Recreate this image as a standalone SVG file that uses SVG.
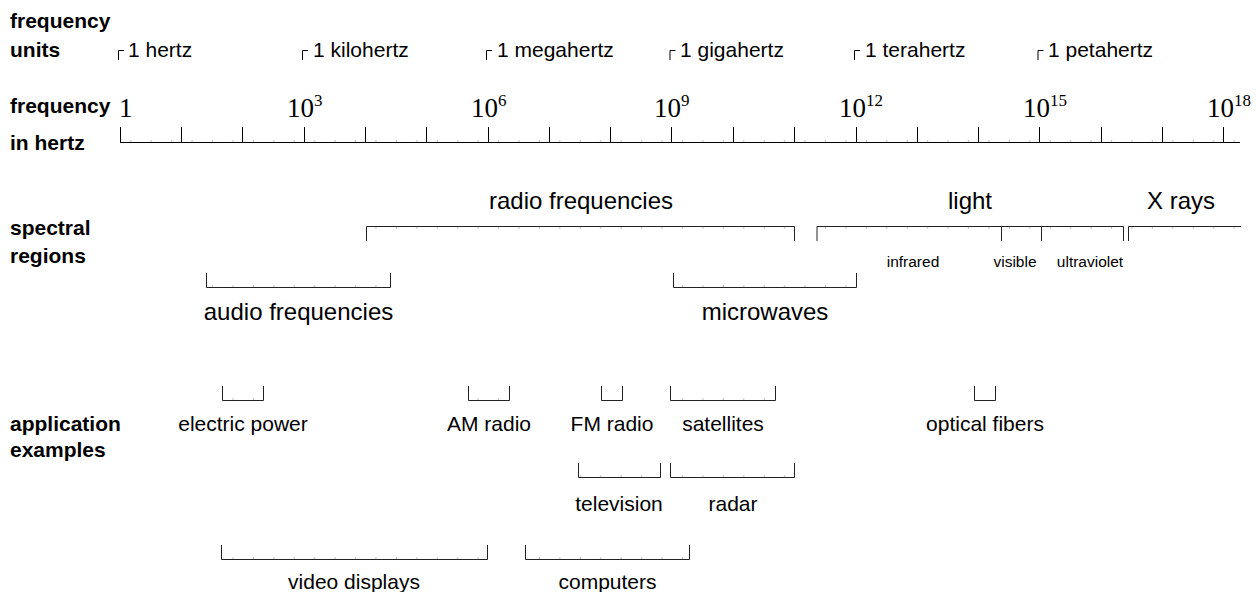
<svg xmlns="http://www.w3.org/2000/svg" width="1256" height="592" viewBox="0 0 1256 592">
<style>
text{font-family:"Liberation Sans",Arial,Helvetica,sans-serif;fill:#000}
.b{font-weight:bold;font-size:21px}
.u{font-size:21px}
.s{font-size:24px;text-anchor:middle}
.a{font-size:21px;text-anchor:middle}
.t{font-size:15.5px;text-anchor:middle}
.n{font-family:"Liberation Serif","Times New Roman",serif;font-size:27px}
.sup{font-size:17px}
.ln{fill:none;stroke:#000;stroke-width:1}
.br{fill:none;stroke:#222;stroke-width:1}
.mt{fill:url(#minor)}
</style>
<defs>
<pattern id="minor" patternUnits="userSpaceOnUse" x="0" y="0" width="20.433" height="2">
<rect x="7.6" y="0" width="1" height="2" fill="#bbb"/>
</pattern>
</defs>
<rect width="1256" height="592" fill="#fff"/>
<g id="row-labels">
<text class="b" x="10" y="28">frequency</text>
<text class="b" x="10" y="57">units</text>
<text class="b" x="10" y="113">frequency</text>
<text class="b" x="10" y="150">in hertz</text>
<text class="b" x="10" y="235">spectral</text>
<text class="b" x="10" y="263">regions</text>
<text class="b" x="10" y="431">application</text>
<text class="b" x="10" y="457">examples</text>
</g>
<g id="units">
<path class="ln" d="M118.5 60V50.5H124M302.5 60V50.5H308M486.5 60V50.5H492M670 60V50.5H675.5M854.5 60V50.5H860M1038 60V50.5H1043.5"/>
<text class="u" x="128" y="57">1 hertz</text>
<text class="u" x="313" y="57">1 kilohertz</text>
<text class="u" x="497" y="57">1 megahertz</text>
<text class="u" x="680" y="57">1 gigahertz</text>
<text class="u" x="865" y="57">1 terahertz</text>
<text class="u" x="1048" y="57">1 petahertz</text>
</g>
<g id="axis">
<rect class="mt" x="121" y="140" width="1119" height="2"/>
<path class="ln" d="M120 142.5H1240"/>
<path class="ln" d="M120.5 127V142M181.5 127V142M242.5 127V142M304.5 127V142M365.5 127V142M426.5 127V142M488.5 127V142M549.5 127V142M610.5 127V142M671.5 127V142M733.5 127V142M794.5 127V142M856.5 127V142M917.5 127V142M978.5 127V142M1039.5 127V142M1101.5 127V142M1162.5 127V142M1223.5 127V142"/>
<text class="n" x="119" y="117">1</text>
<text class="n" x="287" y="117">10<tspan class="sup" dy="-11">3</tspan></text>
<text class="n" x="471" y="117">10<tspan class="sup" dy="-11">6</tspan></text>
<text class="n" x="654" y="117">10<tspan class="sup" dy="-11">9</tspan></text>
<text class="n" x="839" y="117">10<tspan class="sup" dy="-11">12</tspan></text>
<text class="n" x="1023" y="117">10<tspan class="sup" dy="-11">15</tspan></text>
<text class="n" x="1207" y="117">10<tspan class="sup" dy="-11">18</tspan></text>
</g>
<g id="spectral-regions">
<g id="radio-frequencies">
<rect class="mt" x="368" y="227" width="425" height="2"/>
<path class="br" d="M366.5 241V226.5H794.5V241"/>
<text class="s" x="581" y="209">radio frequencies</text>
</g>
<g id="light">
<rect class="mt" x="818" y="227" width="304" height="2"/>
<path class="br" d="M817 241V226.5H1123.5V241M1001.5 226.5V241M1041.5 226.5V241"/>
<text class="s" x="970" y="209">light</text>
<text class="t" x="913" y="267">infrared</text>
<text class="t" x="1015" y="267">visible</text>
<text class="t" x="1090" y="267">ultraviolet</text>
</g>
<g id="x-rays">
<rect class="mt" x="1130" y="227" width="110" height="2"/>
<path class="br" d="M1128.5 241V226.5H1241"/>
<text class="s" x="1181" y="209">X rays</text>
</g>
<g id="audio-frequencies">
<rect class="mt" x="208" y="285" width="181" height="2"/>
<path class="br" d="M206.5 273V287.5H390.5V273"/>
<text class="s" x="298.5" y="320">audio frequencies</text>
</g>
<g id="microwaves">
<rect class="mt" x="675" y="285" width="180" height="2"/>
<path class="br" d="M673.5 273V287.5H856.5V273"/>
<text class="s" x="765" y="320">microwaves</text>
</g>
</g>
<g id="applications">
<g id="electric-power"><rect class="mt" x="224" y="398" width="38" height="2"/><path class="br" d="M222.5 386V400.5H263.5V386"/><text class="a" x="243" y="431">electric power</text></g>
<g id="am-radio"><rect class="mt" x="470" y="398" width="38" height="2"/><path class="br" d="M468.5 386V400.5H509.5V386"/><text class="a" x="489" y="431">AM radio</text></g>
<g id="fm-radio"><path class="br" d="M601.5 386V400.5H622.5V386"/><text class="a" x="612" y="431">FM radio</text></g>
<g id="satellites"><rect class="mt" x="672" y="398" width="102" height="2"/><path class="br" d="M670.5 386V400.5H775.5V386"/><text class="a" x="723" y="431">satellites</text></g>
<g id="optical-fibers"><path class="br" d="M974.5 386V400.5H995.5V386"/><text class="a" x="985" y="431">optical fibers</text></g>
<g id="television"><rect class="mt" x="580" y="475" width="79" height="2"/><path class="br" d="M578.5 463V477.5H660.5V463"/><text class="a" x="619" y="511">television</text></g>
<g id="radar"><rect class="mt" x="672" y="475" width="121" height="2"/><path class="br" d="M670.5 463V477.5H794.5V463"/><text class="a" x="733" y="511">radar</text></g>
<g id="video-displays"><rect class="mt" x="223" y="557" width="263" height="2"/><path class="br" d="M221.5 545V559.5H487.5V545"/><text class="a" x="354" y="589">video displays</text></g>
<g id="computers"><rect class="mt" x="527" y="557" width="161" height="2"/><path class="br" d="M525.5 545V559.5H689.5V545"/><text class="a" x="607.5" y="589">computers</text></g>
</g>
</svg>
